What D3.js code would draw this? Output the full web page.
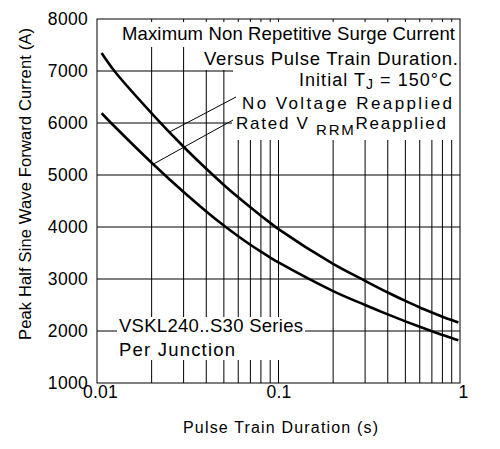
<!DOCTYPE html>
<html>
<head>
<meta charset="utf-8">
<script src="https://cdn.jsdelivr.net/npm/d3@7/dist/d3.min.js"></script>
<style>
  html, body { margin: 0; padding: 0; background: #fff; }
  svg { display: block; font-family: "Liberation Sans", Arial, sans-serif; }
</style>
</head>
<body>
<svg id="chart" width="500" height="449"></svg>
<script>
// ---- data ----
const durationsUpper = [0.0106, 0.0125, 0.02, 0.03, 0.04, 0.05, 0.06, 0.07, 0.08, 0.09, 0.1, 0.2, 0.3, 0.4, 0.5, 0.6, 0.7, 0.8, 0.9, 0.98];
const noVoltage      = [7345, 6995, 6187, 5544, 5119, 4809, 4571, 4378, 4217, 4079, 3959, 3290, 2965, 2740, 2578, 2452, 2355, 2275, 2210, 2165];
const durationsLower = [0.0106, 0.012, 0.02, 0.03, 0.04, 0.05, 0.06, 0.07, 0.08, 0.09, 0.1, 0.2, 0.3, 0.4, 0.5, 0.6, 0.7, 0.8, 0.9, 0.98];
const ratedVrrm      = [6187, 5995, 5236, 4673, 4300, 4028, 3822, 3658, 3525, 3413, 3318, 2767, 2500, 2319, 2185, 2080, 1995, 1924, 1864, 1822];
const yTicks = [1000, 2000, 3000, 4000, 5000, 6000, 7000, 8000];
const yGrid = [2000, 3000, 4000, 5000, 6000, 7000];
const xTicks = [0.01, 0.1, 1];
const xTickLabels = ["0.01", "0.1", "1"];
const xGrid = [0.02, 0.03, 0.04, 0.05, 0.06, 0.07, 0.08, 0.09, 0.1, 0.2, 0.3, 0.4, 0.5, 0.6, 0.7, 0.8, 0.9];
const xTitle = "Pulse Train Duration (s)";
const yTitle = "Peak Half Sine Wave Forward Current (A)";
// leader attach points on the curves (duration, current)
const leaderUpper = [0.0252, 5830];
const leaderLower = [0.0204, 5208];

// ---- layout ----
const L = 97, R = 460, T = 19, B = 383;
const svg = d3.select("#chart");
const x = d3.scaleLog().domain([0.01, 1]).range([L, R]);
const y = d3.scaleLinear().domain([1000, 8000]).range([B, T]);

// grid
const g = svg.append("g");
g.selectAll("line.h").data(yGrid).join("line")
  .attr("x1", L).attr("x2", R).attr("y1", d => y(d)).attr("y2", d => y(d))
  .attr("stroke", "#000").attr("stroke-width", 1);
g.selectAll("line.v").data(xGrid).join("line")
  .attr("y1", T).attr("y2", B).attr("x1", d => x(d)).attr("x2", d => x(d))
  .attr("stroke", "#000").attr("stroke-width", 1);

// white label boxes (cover grid)
const boxes = [
  [100, 22, 460, 47],
  [200, 47, 460, 70],
  [233, 70, 460, 95],
  [237, 95, 460, 113],
  [232, 113, 460, 140],
  [117, 317, 305, 360]
];
svg.append("g").selectAll("rect").data(boxes).join("rect")
  .attr("x", d => d[0]).attr("y", d => d[1])
  .attr("width", d => d[2] - d[0]).attr("height", d => d[3] - d[1])
  .attr("fill", "#fff");

// curves
const line = d3.line().x(d => x(d[0])).y(d => y(d[1])).curve(d3.curveCatmullRom.alpha(0.5));
[[durationsUpper, noVoltage], [durationsLower, ratedVrrm]].forEach(([xs, vals]) => {
  svg.append("path")
    .datum(xs.map((d, i) => [d, vals[i]]))
    .attr("d", line)
    .attr("fill", "none").attr("stroke", "#000").attr("stroke-width", 2.6)
    .attr("stroke-linejoin", "round");
});

// leaders
svg.append("line").attr("x1", 236).attr("y1", 97)
  .attr("x2", x(leaderUpper[0])).attr("y2", y(leaderUpper[1]))
  .attr("stroke", "#000").attr("stroke-width", 1);
svg.append("line").attr("x1", 233).attr("y1", 120)
  .attr("x2", x(leaderLower[0])).attr("y2", y(leaderLower[1]))
  .attr("stroke", "#000").attr("stroke-width", 1);

// frame
svg.append("rect").attr("x", L).attr("y", T).attr("width", R - L).attr("height", B - T)
  .attr("fill", "none").attr("stroke", "#000").attr("stroke-width", 1);

// axes
const yAxis = svg.append("g").attr("transform", `translate(${L},0)`)
  .call(d3.axisLeft(y).tickValues(yTicks).tickSize(0).tickPadding(9).tickFormat(d3.format("d")));
yAxis.select(".domain").remove();
yAxis.selectAll("text").attr("font-size", 17.5).attr("fill", "#000")
  .attr("font-family", "Liberation Sans, Arial, sans-serif").attr("letter-spacing", 0.3);

const xAxis = svg.append("g").attr("transform", `translate(0,${B})`)
  .call(d3.axisBottom(x).tickValues(xTicks).tickSize(0).tickPadding(3)
    .tickFormat((d, i) => xTickLabels[i]));
xAxis.select(".domain").remove();
xAxis.selectAll("text").attr("font-size", 17.5).attr("fill", "#000")
  .attr("font-family", "Liberation Sans, Arial, sans-serif").attr("letter-spacing", 0.3);
xAxis.selectAll(".tick").filter(d => d === 0.01).select("text").attr("dx", 3);
xAxis.selectAll(".tick").filter(d => d === 1).select("text").attr("dx", 3);

// titles
svg.append("text").attr("x", 183).attr("y", 433).attr("font-size", 16)
  .attr("textLength", 195).attr("lengthAdjust", "spacing").text(xTitle);
svg.append("text").attr("transform", "translate(31,340) rotate(-90)")
  .attr("font-size", 16.5).attr("textLength", 312).attr("lengthAdjust", "spacing").text(yTitle);

// annotations
function ann(x0, yb, len, parts, fs) {
  fs = fs || 18.5;
  const t = svg.append("text").attr("x", x0).attr("y", yb).attr("font-size", fs)
    .attr("textLength", len).attr("lengthAdjust", "spacing");
  parts.forEach(p => {
    const s = t.append("tspan").text(p.t);
    if (p.sub) s.attr("dy", p.sub);
    if (p.fs) s.attr("font-size", p.fs);
  });
  return t;
}
ann(122, 40, 333, [{t: "Maximum Non Repetitive Surge Current"}]);
ann(204, 65, 254, [{t: "Versus Pulse Train Duration."}]);
ann(299, 86, 153, [{t: "Initial T"}, {t: "J", sub: 3, fs: 14}, {t: " = 150°C", sub: -3, fs: 18}], 18);
ann(242, 109, 210, [{t: "No Voltage Reapplied"}], 17);
ann(236, 128.5, 210, [{t: "Rated V "}, {t: "RRM", sub: 6, fs: 15}, {t: "Reapplied", sub: -6, fs: 17}], 17);
ann(119, 332, 184, [{t: "VSKL240..S30 Series"}]);
ann(119, 356, 116, [{t: "Per Junction"}]);
</script>
</body>
</html>
